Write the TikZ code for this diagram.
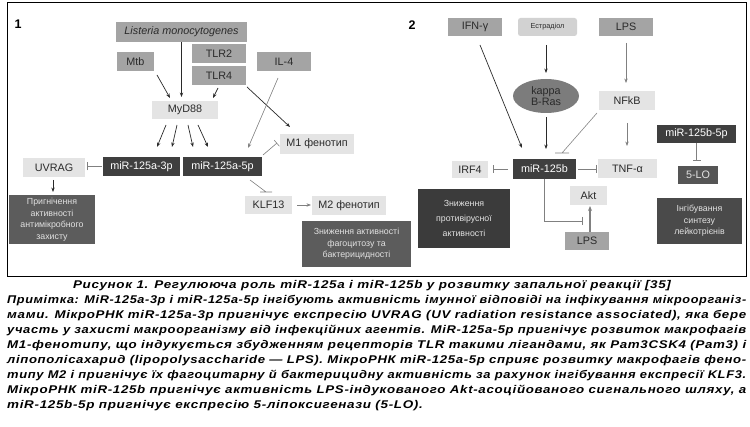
\documentclass[tikz,border=0pt]{standalone}
\usepackage{fontspec}
\usepackage{graphicx}
\setmainfont{Liberation Sans}
\newfontfamily\capfont[FakeStretch=1.2,LetterSpace=6]{Liberation Sans}
\usetikzlibrary{arrows.meta,calc,shapes.geometric}
\definecolor{boxmid}{HTML}{A4A4A4}
\definecolor{boxlight}{HTML}{E4E4E4}
\definecolor{boxdark}{HTML}{3F3F3F}
\definecolor{boxres}{HTML}{5C5C5C}
\definecolor{boxres3}{HTML}{3B3B3B}
\definecolor{boxres4}{HTML}{4A4A4A}
\definecolor{boxlo}{HTML}{555555}
\definecolor{boxestr}{HTML}{D2D2D2}
\definecolor{ellfill}{HTML}{7C7C7C}
\definecolor{txtdark}{HTML}{2A2A2A}
\definecolor{restxt}{HTML}{E2E2E2}
\definecolor{linedark}{HTML}{2A2A2A}
\definecolor{linegray}{HTML}{808080}
\newsavebox\capbox
\newcommand\capline[1]{\sbox\capbox{#1}%
  \ifdim\wd\capbox>737pt \resizebox{739pt}{\ht\capbox}{\usebox\capbox}%
  \else\makebox[739pt][s]{#1}\fi}
\begin{document}
\begin{tikzpicture}[x=1pt,y=-1pt,
  base/.style={inner sep=0pt, outer sep=0pt, font=\fontsize{10.8}{12}\selectfont, align=center},
  mid/.style={base, fill=boxmid, text=txtdark},
  light/.style={base, fill=boxlight, text=txtdark},
  dark/.style={base, fill=boxdark, text=white},
  res/.style={base, font=\fontsize{8.8}{11.5}\selectfont, text=restxt},
  sz/.style 2 args={minimum width=#1pt, minimum height=#2pt},
  arr/.style={draw=linedark, line width=0.7pt, -{Stealth[length=4.5pt,width=3.4pt]}},
  arrg/.style={draw=linegray, line width=0.6pt, -{Stealth[length=4.5pt,width=3.4pt]}},
  inh/.style={draw=linegray, line width=0.6pt, -{Bar[width=8pt]}},
  inhl/.style={draw=linegray, line width=0.6pt},
  panlab/.style={inner sep=0pt, font=\bfseries\fontsize{12.5}{13}\selectfont},
  capl/.style={inner sep=0pt, anchor=base west, font=\capfont\bfseries\itshape\fontsize{11.2}{13}\selectfont},
]
\useasboundingbox (0,0) rectangle (750,427);
\draw[line width=1pt] (7,3) rectangle (746,277);

% ---------- panel 1 ----------
\node[panlab] (lab1) at (18,24) {1};
\node[mid, sz={131}{20}, font=\itshape\fontsize{10.8}{12}\selectfont] (listeria) at (181.5,32) {Listeria monocytogenes};
\node[mid, sz={37}{19}] (mtb) at (135.5,61.5) {Mtb};
\node[mid, sz={54}{19}] (tlr2) at (219,53.5) {TLR2};
\node[mid, sz={54}{19}] (tlr4) at (219,75.5) {TLR4};
\node[mid, sz={54}{19}] (il4) at (284,61.5) {IL-4};
\node[light, sz={66}{18}] (myd88) at (185,110) {MyD88};
\node[dark, sz={77}{19}] (mir3p) at (141.5,166.5) {miR-125a-3p};
\node[dark, sz={79}{19}] (mir5p) at (222.5,166.5) {miR-125a-5p};
\node[light, sz={62}{19}] (uvrag) at (54,167.5) {UVRAG};
\node[light, sz={74}{20}] (m1) at (317,144) {M1 фенотип};
\node[light, sz={47}{18}] (klf13) at (268.5,205) {KLF13};
\node[light, sz={74}{19}] (m2) at (349,205.5) {M2 фенотип};
\node[res, fill=boxres, sz={86}{49}] (res1) at (52,219.5) {Пригнічення\\активності\\антимікробного\\захисту};
\node[res, fill=boxres, sz={109}{46}] (res2) at (356.5,244) {Зниження активності\\фагоцитозу та\\бактерицидності};

\draw[arr] (listeria.south) -- (listeria.south |- myd88.north) [shorten >=4pt];
\draw[arr] ($(mtb.south east)+(3,4)$) -- ($(myd88.north west)+(18,-3)$);
\draw[arr] ($(tlr4.south)+(-1,3)$) -- ($(myd88.north east)+(-5,-3)$);
\draw[arr] ($(tlr4.south east)+(1,2)$) -- ($(m1.north)+(-27,-7)$);
\draw[arrg] ($(il4.south)+(-6,7)$) -- ($(mir5p.north)+(25.5,-9)$);
\draw[arr] ($(myd88.south)+(-19,6)$) -- ($(mir3p.north)+(15.5,-10)$);
\draw[arr] ($(myd88.south)+(-8,6)$) -- ($(mir3p.north)+(30.5,-10)$);
\draw[arr] ($(myd88.south)+(3,6)$) -- ($(mir5p.north)+(-29.5,-10)$);
\draw[arr] ($(myd88.south)+(13,6)$) -- ($(mir5p.north)+(-14.5,-10)$);
\draw[inh, shorten <=1pt, shorten >=2pt] (mir3p.west) -- (mir3p.west -| uvrag.east);
\draw[arr, shorten <=3pt, shorten >=3pt] ([xshift=-1pt]uvrag.south) -- ([xshift=-1pt]uvrag.south |- res1.north);
\draw[inh] ($(mir5p.north east)+(1,-2)$) -- ($(m1.west)+(-3,-1)$);
\draw[inhl] ($(mir5p.south east)+(-12,4)$) -- ($(klf13.north)+(-2.5,-4)$) ++(-6,0) -- ++(12,0);
\draw[arrg, shorten <=5pt, shorten >=1pt] (klf13.east) -- (klf13.east -| m2.west);

% ---------- panel 2 ----------
\node[panlab] (lab2) at (412,25) {2};
\node[mid, sz={54}{18}] (ifng) at (475,27) {IFN-γ};
\node[base, fill=boxestr, text=txtdark, rounded corners=2.5pt, sz={59}{18}, font=\fontsize{7.3}{8}\selectfont] (estr) at (547.5,27) {Естрадіол};
\node[mid, sz={54}{18}] (lps1) at (626,27) {LPS};
\node[base, ellipse, fill=ellfill, text=txtdark, sz={66}{34}, font=\fontsize{10.8}{11.5}\selectfont] (kappa) at (546,96) {kappa\\B-Ras};
\node[light, sz={56}{19}] (nfkb) at (627,100.5) {NFkB};
\node[dark, sz={63}{20}] (mir125b) at (544.5,169) {miR-125b};
\node[light, sz={36}{17}] (irf4) at (470,169.5) {IRF4};
\node[light, sz={59}{19}] (tnfa) at (627.5,168.5) {TNF-α};
\node[dark, sz={79}{18}] (mir5p2) at (696.5,134) {miR-125b-5p};
\node[base, fill=boxlo, text=restxt, sz={40}{18}] (lo5) at (698,175) {5-LO};
\node[res, fill=boxres3, sz={92}{59}, font=\fontsize{8.8}{15}\selectfont] (res3) at (464,218.5) {Зниження\\противірусної\\активності};
\node[light, sz={37}{19}] (akt) at (588.5,195.5) {Akt};
\node[mid, sz={44}{18}] (lps2) at (587,241) {LPS};
\node[res, fill=boxres4, sz={85}{46}] (res4) at (699.5,221) {Інгібування\\синтезу\\лейкотрієнів};

\draw[arr, shorten <=9pt, shorten >=6pt] ([xshift=-1.5pt]estr.south) -- ([xshift=-1.5pt]estr.south |- kappa.north);
\draw[arrg, shorten <=7pt, shorten >=8pt] (lps1.south) -- (lps1.south |- nfkb.north);
\draw[arr] ($(ifng.south)+(5,9)$) -- ($(mir125b.north west)+(9,-11)$);
\draw[arr, shorten <=4pt, shorten >=10pt] (kappa.south) -- (kappa.south |- mir125b.north);
\draw[inhl] ($(nfkb.south west)+(-2,3)$) -- ($(mir125b.north)+(17.5,-6)$) ++(-7,0) -- ++(14,0);
\draw[arrg, shorten <=13pt, shorten >=13pt] (nfkb.south) -- (nfkb.south |- tnfa.north);
\draw[inh, shorten <=5pt, shorten >=5pt] (mir125b.west) -- (mir125b.west -| irf4.east);
\draw[inh, shorten <=2pt, shorten >=1pt] (mir125b.east) -- (mir125b.east -| tnfa.west);
\draw[inh, shorten >=5pt] (mir5p2.south) -- (mir5p2.south |- lo5.north);
\draw[inh] (mir125b.south) |- ($(lps2.north west)+(18,-11)$);
\draw[draw=linegray, line width=1.2pt, -{Stealth[length=5pt,width=4pt]}, shorten >=1pt] ([xshift=3pt]lps2.north) -- ([xshift=1.5pt]akt.south);

% ---------- caption ----------
\node[capl, anchor=base] (cap0) at (372,289) {Рисунок 1. Регулююча роль miR-125a і miR-125b у розвитку запальної реакції [35]};
\node[capl] (cap1) at (7,304) {\capline{Примітка: MiR-125a-3p і miR-125a-5p інгібують активність імунної відповіді на інфікування мікроорганіз-}};
\node[capl] (cap2) at (7,319) {\capline{мами. МікроРНК miR-125a-3p пригнічує експресію UVRAG (UV radiation resistance associated), яка бере}};
\node[capl] (cap3) at (7,334) {\capline{участь у захисті макроорганізму від інфекційних агентів. MiR-125a-5p пригнічує розвиток макрофагів}};
\node[capl] (cap4) at (7,349) {\capline{M1-фенотипу, що індукується збудженням рецепторів TLR такими лігандами, як Pam3CSK4 (Pam3) і}};
\node[capl] (cap5) at (7,364) {\capline{ліпополісахарид (lipopolysaccharide — LPS). МікроРНК miR-125a-5p сприяє розвитку макрофагів фено-}};
\node[capl] (cap6) at (7,379) {\capline{типу M2 і пригнічує їх фагоцитарну й бактерицидну активність за рахунок інгібування експресії KLF3.}};
\node[capl] (cap7) at (7,394) {\capline{МікроРНК miR-125b пригнічує активність LPS-індукованого Akt-асоційованого сигнального шляху, а}};
\node[capl] (cap8) at (7,409) {miR-125b-5p пригнічує експресію 5-ліпоксигенази (5-LO).};
\end{tikzpicture}
\end{document}
